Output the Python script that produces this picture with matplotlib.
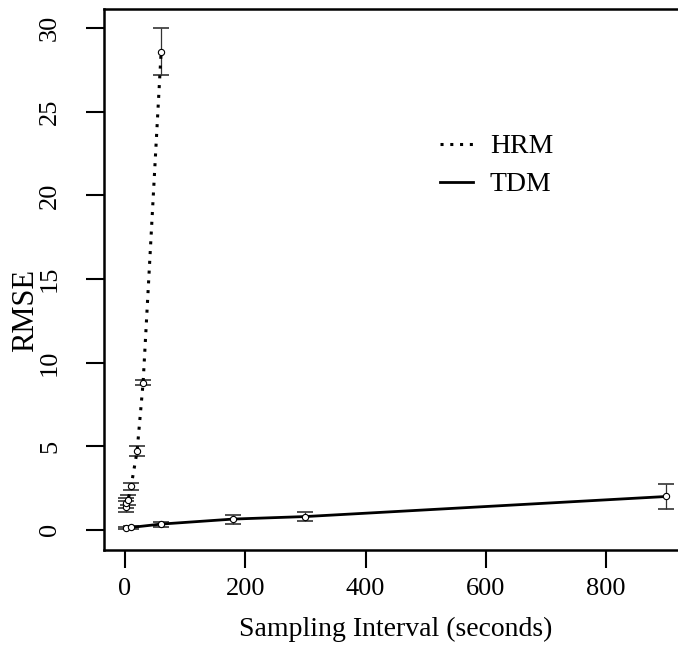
import matplotlib
matplotlib.use("Agg")
import matplotlib.pyplot as plt
from matplotlib.lines import Line2D

plt.rcParams['font.family'] = ['Liberation Serif', 'DejaVu Serif']

hrm_x = [1, 2, 5, 10, 20, 30, 60]
hrm_y = [1.4, 1.6, 1.8, 2.6, 4.7, 8.8, 28.6]
hrm_err = [0.35, 0.3, 0.3, 0.2, 0.3, 0.15, 1.4]

tdm_x = [1, 10, 60, 180, 300, 900]
tdm_y = [0.12, 0.15, 0.35, 0.65, 0.8, 2.0]
tdm_err = [0.05, 0.08, 0.15, 0.27, 0.28, 0.75]

xticks = [0, 200, 400, 600, 800]
yticks = [0, 5, 10, 15, 20, 25, 30]

W, H = 678, 646
fig = plt.figure(figsize=(W/100, H/100), dpi=100)
ax = fig.add_axes([104/W, (H-550)/H, (688-104)/W, (550-9)/H])

ax.errorbar(hrm_x, hrm_y, yerr=hrm_err, fmt='none', ecolor='#333333', elinewidth=0.9, capsize=6, capthick=1.2)
ax.errorbar(tdm_x, tdm_y, yerr=tdm_err, fmt='none', ecolor='#333333', elinewidth=0.9, capsize=6, capthick=1.2)
ax.plot(hrm_x, hrm_y, color='black', lw=2.2, linestyle=(0, (1, 2.2)),
        marker='o', markersize=4.5, markerfacecolor='white', markeredgecolor='black', markeredgewidth=0.8)
ax.plot(tdm_x, tdm_y, color='black', lw=2.0, linestyle='-',
        marker='o', markersize=4.5, markerfacecolor='white', markeredgecolor='black', markeredgewidth=0.8)

ax.set_xlim(-35, 936)
ax.set_ylim(-1.2, 31.15)
ax.set_xticks(xticks)
ax.set_yticks(yticks)
ax.set_xticklabels([str(v) for v in xticks], fontsize=19)
ax.set_yticklabels([str(v) for v in yticks], fontsize=19, rotation=90, va='center')
ax.tick_params(axis='both', length=13, width=1.5, direction='out', pad=7)
ax.tick_params(axis='y', pad=18)
for s in ax.spines.values():
    s.set_linewidth(1.8)

ax.set_xlabel('Sampling Interval (seconds)', fontsize=20, labelpad=12)
fig.text(26/W, 1 - 310/H, 'RMSE', fontsize=22, rotation=90, ha='center', va='center')

handles = [Line2D([], [], color='black', lw=2.2, linestyle=(0, (1, 2.2))),
           Line2D([], [], color='black', lw=2.0)]
fig.legend(handles, ['HRM', 'TDM'], loc='upper left', frameon=False, fontsize=20,
           bbox_to_anchor=(415/W, 1 - 109/H), handlelength=1.2, handletextpad=0.6,
           labelspacing=0.45)

fig.savefig('out.png', dpi=100)
